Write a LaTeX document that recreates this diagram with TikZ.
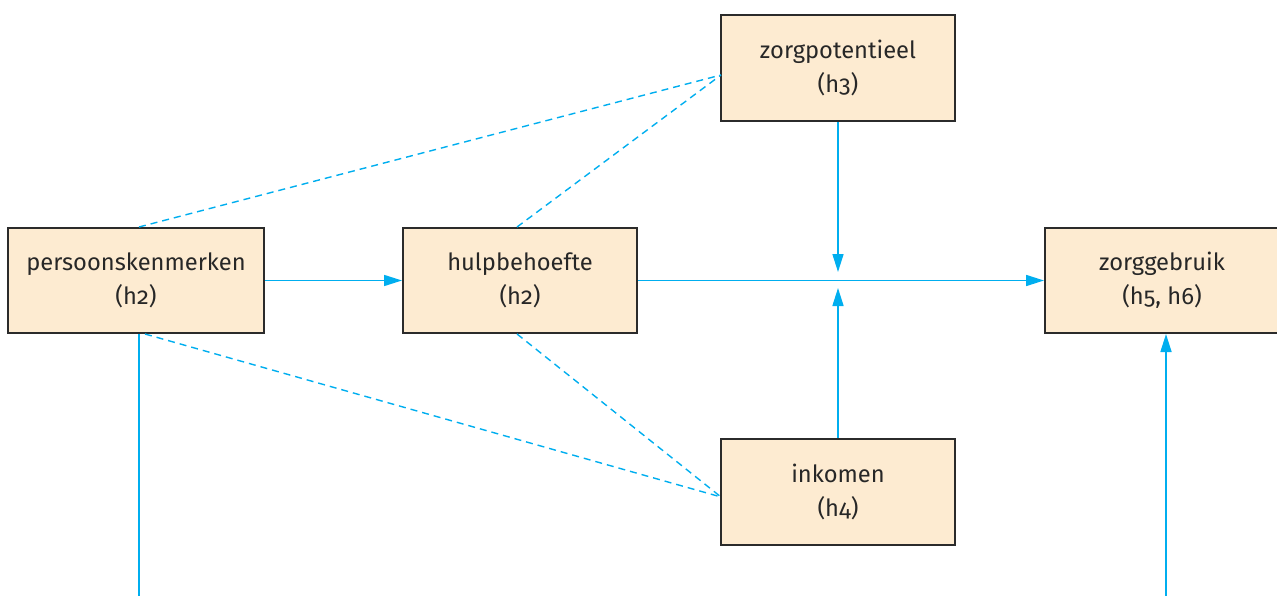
\documentclass[tikz,border=0pt]{standalone}
\usepackage{fontspec}
\setmainfont{Fira Sans}[Numbers=OldStyle]
\usetikzlibrary{arrows.meta,calc}
\definecolor{boxfill}{HTML}{FDEBD1}
\definecolor{boxline}{HTML}{2B2B2B}
\definecolor{flow}{HTML}{00AEEF}
\tikzset{
  box/.style={draw=boxline, line width=2pt, fill=boxfill, align=center,
    font=\fontsize{23.7}{34}\selectfont, text=boxline!90!black, inner sep=0pt},
  flowline/.style={draw=flow, line width=1.6pt},
  flowarrow/.style={flowline, -{Triangle[length=18pt,width=11pt]}},
  dashline/.style={draw=flow, line width=1.4pt, dash pattern=on 7pt off 5pt},
}
\begin{document}
\begin{tikzpicture}[x=1pt,y=-1pt]
\useasboundingbox (0,0) rectangle (1277,596);
\node[box, minimum width=234pt, minimum height=106pt] (zp) at (838,68) {zorgpotentieel\\(h3)};
\node[box, minimum width=256pt, minimum height=105pt] (pk) at (136,280.5) {persoonskenmerken\\(h2)};
\node[box, minimum width=234pt, minimum height=105pt] (hb) at (520,280.5) {hulpbehoefte\\(h2)};
\node[box, minimum width=234pt, minimum height=105pt] (zg) at (1162,280.5) {zorggebruik\\(h5, h6)};
\node[box, minimum width=234pt, minimum height=106pt] (ink) at (838,492) {inkomen\\(h4)};
\coordinate (mtop) at (838,272);
\coordinate (mbot) at (838,288);
\coordinate (pkend) at (139,596);
\coordinate (zgstart) at (1166,596);
\coordinate (zpl) at (721,75);
\coordinate (inkl) at (721,497);
% dashed associations
\draw[dashline] (pk.north -| pkend) -- (zpl);
\draw[dashline] (hb.north -| 517,0) -- (zpl);
\draw[dashline] ($(pk.south -| pkend)+(6,0)$) -- (inkl);
\draw[dashline] (hb.south -| 517,0) -- (inkl);
% solid flows
\draw[flowarrow] (pk.east) -- (hb.west);
\draw[flowarrow] (hb.east) -- (zg.west);
\draw[flowarrow] (zp.south) -- (mtop);
\draw[flowarrow] (ink.north) -- (mbot);
\draw[flowline] (pk.south -| pkend) -- (pkend);
\draw[flowarrow] (zgstart) -- (zg.south -| zgstart);
\end{tikzpicture}
\end{document}
